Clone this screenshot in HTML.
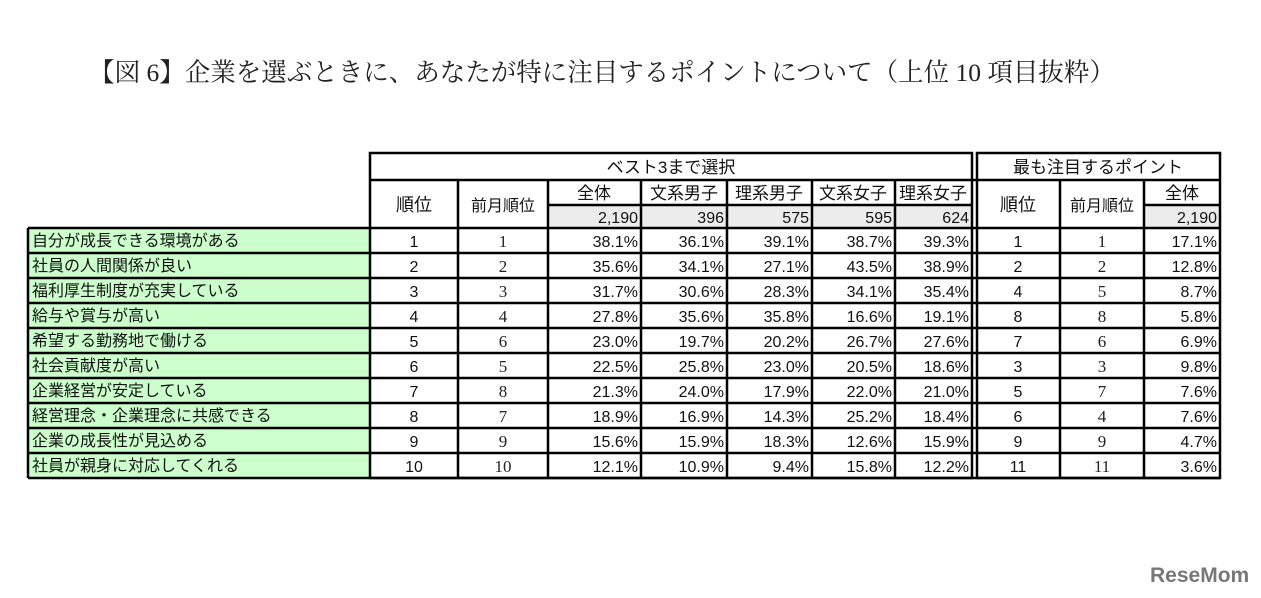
<!DOCTYPE html>
<html><head><meta charset="utf-8"><style>
html,body{margin:0;padding:0;background:#fff;width:1261px;height:598px;overflow:hidden}
svg{display:block}
.t{font-family:"Liberation Sans","Noto Sans CJK JP",sans-serif;font-size:16px;fill:#111}
.s{font-family:"Liberation Serif","Noto Serif CJK SC",serif;font-size:17px;fill:#222}
.r{text-anchor:end}.c{text-anchor:middle}
.h{font-size:17px}
</style></head><body>
<svg width="1261" height="598" viewBox="0 0 1261 598">
<text x="602" y="81" text-anchor="middle" style="font-family:'Liberation Serif','Noto Serif CJK JP',serif;font-size:25.5px;fill:#222">【図 6】企業を選ぶときに、あなたが特に注目するポイントについて（上位 10 項目抜粋）</text>
<rect x="28" y="228" width="342" height="250" fill="#ccffcc"/>
<rect x="548" y="205" width="424" height="23" fill="#ececec"/>
<rect x="1144" y="205" width="76" height="23" fill="#ececec"/>
<g stroke="#000" stroke-width="2.5" fill="none">
<rect x="370" y="153" width="602" height="325"/>
<rect x="977" y="153" width="243" height="325"/>
<line x1="28" y1="228" x2="28" y2="478"/>
<line x1="458" y1="180" x2="458" y2="478"/>
<line x1="548" y1="180" x2="548" y2="478"/>
<line x1="641" y1="180" x2="641" y2="478"/>
<line x1="727" y1="180" x2="727" y2="478"/>
<line x1="812" y1="180" x2="812" y2="478"/>
<line x1="895" y1="180" x2="895" y2="478"/>
<line x1="1060" y1="180" x2="1060" y2="478"/>
<line x1="1144" y1="180" x2="1144" y2="478"/>
<line x1="370" y1="180" x2="1220" y2="180"/>
<line x1="548" y1="205" x2="972" y2="205"/>
<line x1="1144" y1="205" x2="1220" y2="205"/>
<line x1="28" y1="228" x2="1220" y2="228"/>
<line x1="28" y1="253" x2="1220" y2="253"/>
<line x1="28" y1="278" x2="1220" y2="278"/>
<line x1="28" y1="303" x2="1220" y2="303"/>
<line x1="28" y1="328" x2="1220" y2="328"/>
<line x1="28" y1="353" x2="1220" y2="353"/>
<line x1="28" y1="378" x2="1220" y2="378"/>
<line x1="28" y1="403" x2="1220" y2="403"/>
<line x1="28" y1="428" x2="1220" y2="428"/>
<line x1="28" y1="453" x2="1220" y2="453"/>
<line x1="28" y1="478" x2="1220" y2="478"/>
</g>
<text class="t c h" x="671" y="173">ベスト3まで選択</text>
<text class="t c h" x="1098" y="173">最も注目するポイント</text>
<text class="t c" x="414" y="211" style="font-size:18px">順位</text>
<text class="t c" x="503" y="211">前月順位</text>
<text class="t c" x="1018" y="211" style="font-size:18px">順位</text>
<text class="t c" x="1102" y="211">前月順位</text>
<text class="t c h" x="594" y="199">全体</text>
<text class="t c h" x="684" y="199">文系男子</text>
<text class="t c h" x="769" y="199">理系男子</text>
<text class="t c h" x="853" y="199">文系女子</text>
<text class="t c h" x="933" y="199">理系女子</text>
<text class="t c h" x="1182" y="199">全体</text>
<text class="t r" x="638" y="223">2,190</text>
<text class="t r" x="724" y="223">396</text>
<text class="t r" x="809" y="223">575</text>
<text class="t r" x="892" y="223">595</text>
<text class="t r" x="969" y="223">624</text>
<text class="t r" x="1217" y="223">2,190</text>
<g class="t">
<text x="32" y="246">自分が成長できる環境がある</text>
<text x="32" y="271">社員の人間関係が良い</text>
<text x="32" y="296">福利厚生制度が充実している</text>
<text x="32" y="321">給与や賞与が高い</text>
<text x="32" y="346">希望する勤務地で働ける</text>
<text x="32" y="371">社会貢献度が高い</text>
<text x="32" y="396">企業経営が安定している</text>
<text x="32" y="421">経営理念・企業理念に共感できる</text>
<text x="32" y="446">企業の成長性が見込める</text>
<text x="32" y="471">社員が親身に対応してくれる</text>
</g>
<g class="t c">
<text x="414" y="247">1</text><text x="414" y="272">2</text><text x="414" y="297">3</text><text x="414" y="322">4</text><text x="414" y="347">5</text><text x="414" y="372">6</text><text x="414" y="397">7</text><text x="414" y="422">8</text><text x="414" y="447">9</text><text x="414" y="472">10</text>
<text x="1018" y="247">1</text><text x="1018" y="272">2</text><text x="1018" y="297">4</text><text x="1018" y="322">8</text><text x="1018" y="347">7</text><text x="1018" y="372">3</text><text x="1018" y="397">5</text><text x="1018" y="422">6</text><text x="1018" y="447">9</text><text x="1018" y="472">11</text>
</g>
<g class="s c">
<text x="503" y="247">1</text><text x="503" y="272">2</text><text x="503" y="297">3</text><text x="503" y="322">4</text><text x="503" y="347">6</text><text x="503" y="372">5</text><text x="503" y="397">8</text><text x="503" y="422">7</text><text x="503" y="447">9</text><text x="503" y="472">10</text>
<text x="1102" y="247">1</text><text x="1102" y="272">2</text><text x="1102" y="297">5</text><text x="1102" y="322">8</text><text x="1102" y="347">6</text><text x="1102" y="372">3</text><text x="1102" y="397">7</text><text x="1102" y="422">4</text><text x="1102" y="447">9</text><text x="1102" y="472">11</text>
</g>
<g class="t r">
<text x="638" y="247">38.1%</text><text x="724" y="247">36.1%</text><text x="809" y="247">39.1%</text><text x="892" y="247">38.7%</text><text x="969" y="247">39.3%</text><text x="1217" y="247">17.1%</text>
<text x="638" y="272">35.6%</text><text x="724" y="272">34.1%</text><text x="809" y="272">27.1%</text><text x="892" y="272">43.5%</text><text x="969" y="272">38.9%</text><text x="1217" y="272">12.8%</text>
<text x="638" y="297">31.7%</text><text x="724" y="297">30.6%</text><text x="809" y="297">28.3%</text><text x="892" y="297">34.1%</text><text x="969" y="297">35.4%</text><text x="1217" y="297">8.7%</text>
<text x="638" y="322">27.8%</text><text x="724" y="322">35.6%</text><text x="809" y="322">35.8%</text><text x="892" y="322">16.6%</text><text x="969" y="322">19.1%</text><text x="1217" y="322">5.8%</text>
<text x="638" y="347">23.0%</text><text x="724" y="347">19.7%</text><text x="809" y="347">20.2%</text><text x="892" y="347">26.7%</text><text x="969" y="347">27.6%</text><text x="1217" y="347">6.9%</text>
<text x="638" y="372">22.5%</text><text x="724" y="372">25.8%</text><text x="809" y="372">23.0%</text><text x="892" y="372">20.5%</text><text x="969" y="372">18.6%</text><text x="1217" y="372">9.8%</text>
<text x="638" y="397">21.3%</text><text x="724" y="397">24.0%</text><text x="809" y="397">17.9%</text><text x="892" y="397">22.0%</text><text x="969" y="397">21.0%</text><text x="1217" y="397">7.6%</text>
<text x="638" y="422">18.9%</text><text x="724" y="422">16.9%</text><text x="809" y="422">14.3%</text><text x="892" y="422">25.2%</text><text x="969" y="422">18.4%</text><text x="1217" y="422">7.6%</text>
<text x="638" y="447">15.6%</text><text x="724" y="447">15.9%</text><text x="809" y="447">18.3%</text><text x="892" y="447">12.6%</text><text x="969" y="447">15.9%</text><text x="1217" y="447">4.7%</text>
<text x="638" y="472">12.1%</text><text x="724" y="472">10.9%</text><text x="809" y="472">9.4%</text><text x="892" y="472">15.8%</text><text x="969" y="472">12.2%</text><text x="1217" y="472">3.6%</text>
</g>
<text x="1150" y="582" style="font-family:'Liberation Sans',sans-serif;font-weight:bold;font-size:21px;fill:#777">ReseMom</text>
</svg>
</body></html>
